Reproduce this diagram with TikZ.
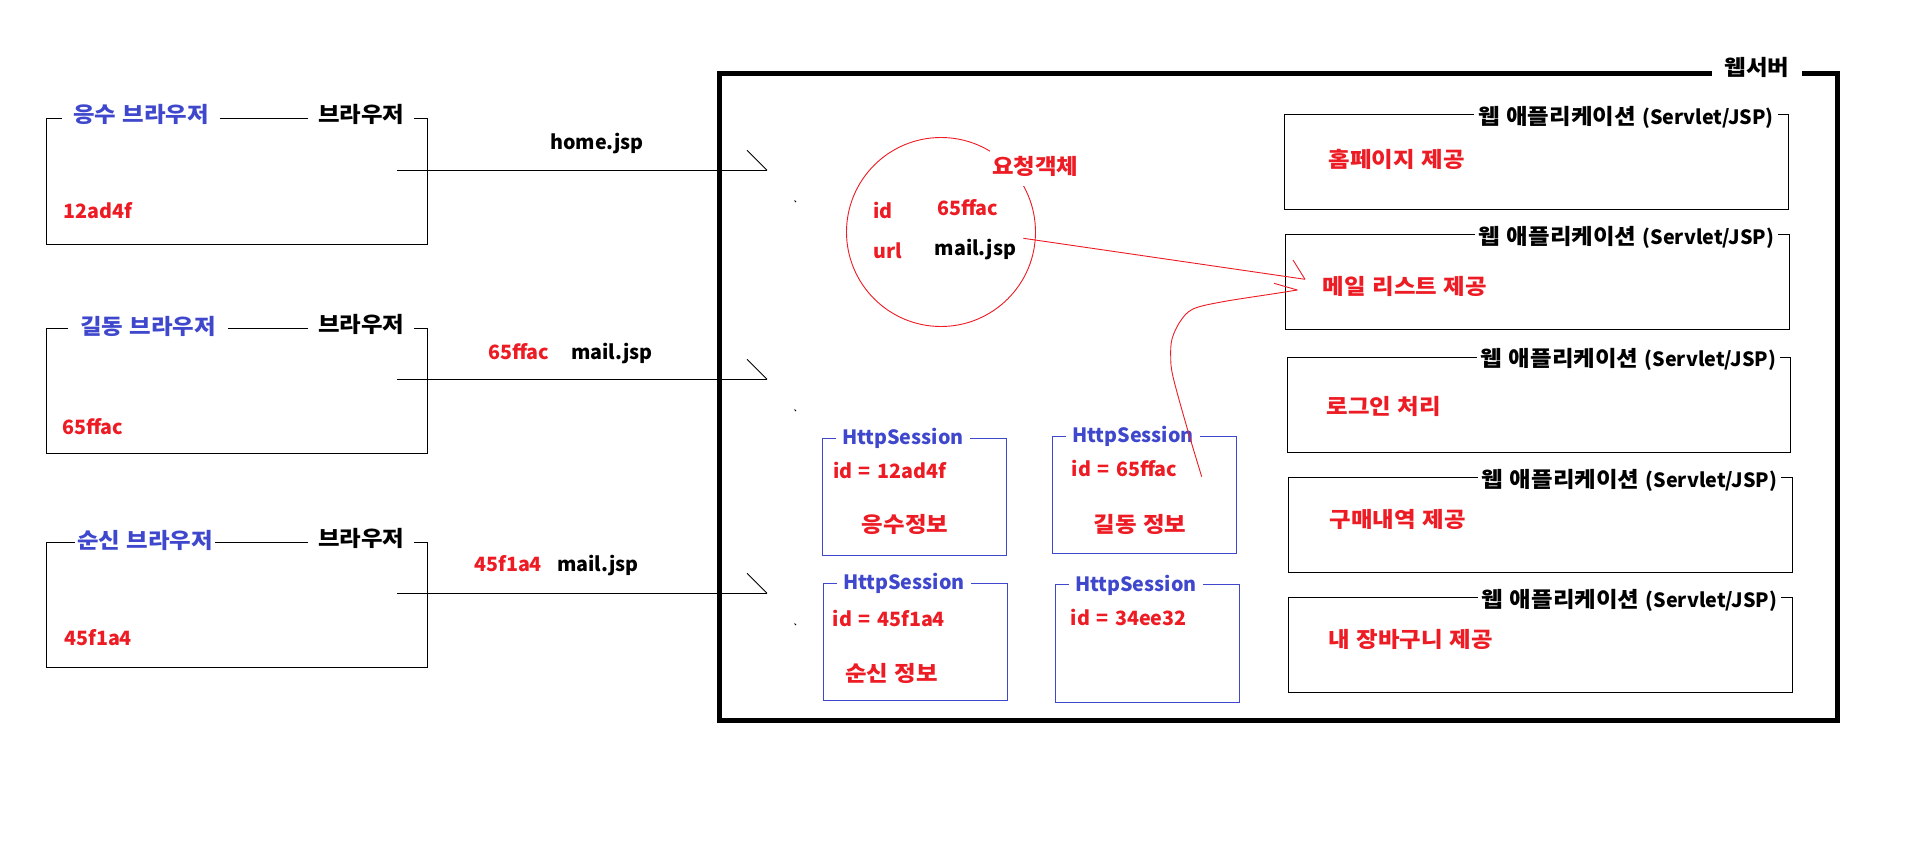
\documentclass[tikz,border=0pt]{standalone}
\usepackage{fontspec}
\setmainfont{Noto Sans CJK KR}
\newfontfamily\kofont{Noto Sans CJK KR}[FakeStretch=1.09]
\newcommand{\K}[1]{{\kofont\bfseries\fontsize{21.5}{24}\selectfont #1}}
\newcommand{\lblfont}{\bfseries\fontsize{19.7}{24}\selectfont\spaceskip=6.5pt\relax}
\definecolor{myred}{RGB}{237,28,36}
\definecolor{myblue}{RGB}{63,72,204}
\begin{document}
\begin{tikzpicture}[x=1pt,y=-1pt,
  lbl/.style={inner sep=0pt,font=\lblfont,text height=15pt,text depth=3pt},
  sbox/.style={draw,line width=1pt,inner sep=0pt,anchor=north west},
  bluebox/.style={draw=myblue,line width=1pt,inner sep=0pt,anchor=north west},
  thin/.style={line width=1pt},
  redthin/.style={draw=myred,line width=0.9pt},
  cut/.style={fill=white},
  ]
\useasboundingbox[fill=white] (0,0) rectangle (1912,867);

% web server
\node[draw,line width=5pt,inner sep=0pt,anchor=north west,minimum width=1117.7pt,minimum height=647.6pt] (srv) at (717,70.7) {};
\node[lbl,cut,inner xsep=13pt] (srvt) at (1757,70) {\K{웹서버}};

% browsers
\node[sbox,minimum width=381pt,minimum height=126pt] (b1) at (46,118) {};
\node[sbox,minimum width=381pt,minimum height=125.3pt] (b2) at (46,327.7) {};
\node[sbox,minimum width=381pt,minimum height=125.3pt] (b3) at (46,541.7) {};
\node[lbl,cut,inner xsep=11pt,anchor=west,text=myblue] (b1t) at (62,116) {\K{응수 브라우저}};
\node[lbl,cut,inner xsep=10pt,anchor=west] (b1k) at (308,116) {\K{브라우저}};
\node[lbl,cut,inner xsep=12pt,anchor=west,text=myblue] (b2t) at (68,328) {\K{길동 브라우저}};
\node[lbl,cut,inner xsep=10pt,anchor=west] (b2k) at (308,326) {\K{브라우저}};
\node[lbl,cut,inner xsep=2pt,anchor=west,text=myblue] (b3t) at (75,542) {\K{순신 브라우저}};
\node[lbl,cut,inner xsep=10pt,anchor=west] (b3k) at (308,540) {\K{브라우저}};
\node[lbl,anchor=west,text=myred] (b1id) at (63,212) {12ad4f};
\node[lbl,anchor=west,text=myred] (b2id) at (62,428) {65ffac};
\node[lbl,anchor=west,text=myred] (b3id) at (64,639) {45f1a4};

% request lines
\coordinate (l1s) at (397,170.3); \coordinate (l1e) at (767,170.3); \coordinate (l1b) at (747,150.3);
\coordinate (l2s) at (397,379.3); \coordinate (l2e) at (767,379.3); \coordinate (l2b) at (747,359.3);
\coordinate (l3s) at (397,593.3); \coordinate (l3e) at (767,593.3); \coordinate (l3b) at (747,573.3);
\draw[thin] (l1s) -- (l1e); \draw[line width=0.8pt] (l1b) -- (l1e);
\draw[thin] (l2s) -- (l2e); \draw[line width=0.8pt] (l2b) -- (l2e);
\draw[thin] (l3s) -- (l3e); \draw[line width=0.8pt] (l3b) -- (l3e);
\coordinate (d1) at (794.5,200.5); \coordinate (d2) at (794.5,409.5); \coordinate (d3) at (794.5,623.5);
\draw[line width=0.8pt] (d1) -- ++(1.5,1.5);
\draw[line width=0.8pt] (d2) -- ++(1.5,1.5);
\draw[line width=0.8pt] (d3) -- ++(1.5,1.5);
\node[lbl] (u1) at (597,143) {home.jsp};
\node[lbl,anchor=west,text=myred] (u2a) at (488,353) {65ffac};
\node[lbl,anchor=west] (u2b) at (571,353) {mail.jsp};
\node[lbl,anchor=west,text=myred] (u3a) at (474,565) {45f1a4};
\node[lbl,anchor=west] (u3b) at (557,565) {mail.jsp};

% request object
\node[redthin,circle,minimum size=189pt,inner sep=0pt] (req) at (941,232) {};
\node[lbl,cut,inner xsep=2pt,minimum height=36pt,anchor=west,text=myred] (reqt) at (990,168) {\K{요청객체}};
\node[lbl,anchor=west,text=myred] (rid) at (873,212) {id};
\node[lbl,anchor=west,text=myred] (ridv) at (937,209) {65ffac};
\node[lbl,anchor=west,text=myred] (rurl) at (873,252) {url};
\node[lbl,anchor=west] (rurlv) at (934.5,249) {mail.jsp};

% sessions
\node[bluebox,minimum width=183.4pt,minimum height=117.6pt] (s1) at (822.3,437.7) {};
\node[bluebox,minimum width=183.4pt,minimum height=117.6pt] (s2) at (1052.3,435.7) {};
\node[bluebox,minimum width=183.4pt,minimum height=117.6pt] (s3) at (823.3,582.7) {};
\node[bluebox,minimum width=183.4pt,minimum height=118pt] (s4) at (1055.3,584.3) {};
\node[lbl,cut,inner xsep=6pt,text=myblue] (s1t) at (902.8,438.3) {HttpSession};
\node[lbl,cut,inner xsep=6pt,text=myblue] (s2t) at (1133,436) {HttpSession};
\node[lbl,cut,inner xsep=6pt,text=myblue] (s3t) at (903.8,583.3) {HttpSession};
\node[lbl,cut,inner xsep=6pt,text=myblue] (s4t) at (1135.8,585) {HttpSession};
\node[lbl,anchor=west,text=myred] (s1id) at (833,472.3) {id = 12ad4f};
\node[lbl,anchor=west,text=myred] (s1i) at (861.7,526.7) {\K{응수정보}};
\node[lbl,anchor=west,text=myred] (s2id) at (1071.7,470) {id = 65ffac};
\node[lbl,anchor=west,text=myred] (s2i) at (1093.3,526) {\K{길동 정보}};
\node[lbl,anchor=west,text=myred] (s3id) at (832.7,620.7) {id = 45f1a4};
\node[lbl,anchor=west,text=myred] (s3i) at (845,675.3) {\K{순신 정보}};
\node[lbl,anchor=west,text=myred] (s4id) at (1070.7,619) {id = 34ee32};

% web applications
\node[sbox,minimum width=503.3pt,minimum height=95pt] (a1) at (1284.4,114.3) {};
\node[sbox,minimum width=503.3pt,minimum height=95pt] (a2) at (1285.2,234.3) {};
\node[sbox,minimum width=503.4pt,minimum height=95pt] (a3) at (1287,357.3) {};
\node[sbox,minimum width=503.5pt,minimum height=95pt] (a4) at (1288,477.3) {};
\node[sbox,minimum width=503.5pt,minimum height=95pt] (a5) at (1288,597.3) {};
\node[lbl,cut,inner xsep=4pt] (a1t) at (1626,118) {\K{웹 애플리케이션} (Servlet/JSP)};
\node[lbl,cut,inner xsep=4pt] (a2t) at (1626.5,238) {\K{웹 애플리케이션} (Servlet/JSP)};
\node[lbl,cut,inner xsep=4pt] (a3t) at (1628.5,360.7) {\K{웹 애플리케이션} (Servlet/JSP)};
\node[lbl,cut,inner xsep=4pt] (a4t) at (1629.5,481.5) {\K{웹 애플리케이션} (Servlet/JSP)};
\node[lbl,cut,inner xsep=4pt] (a5t) at (1629.5,601.5) {\K{웹 애플리케이션} (Servlet/JSP)};
\node[lbl,anchor=west,text=myred] (a1c) at (1328.5,161) {\K{홈페이지 제공}};
\node[lbl,anchor=west,text=myred] (a2c) at (1322.7,288) {\K{메일 리스트 제공}};
\node[lbl,anchor=west,text=myred] (a3c) at (1326.5,408.3) {\K{로그인 처리}};
\node[lbl,anchor=west,text=myred] (a4c) at (1329.6,521) {\K{구매내역 제공}};
\node[lbl,anchor=west,text=myred] (a5c) at (1328.5,641) {\K{내 장바구니 제공}};

% red arrows
\coordinate (r1s) at (1023.4,238.3); \coordinate (r1e) at (1305,279.3); \coordinate (r1b) at (1293,260);
\draw[redthin] (r1s) -- (r1e);
\draw[redthin] (r1b) -- (r1e);
\coordinate (r2s) at (1201.7,476.7); \coordinate (r2e) at (1297.3,290); \coordinate (r2b) at (1274,283.3);
\draw[redthin] plot[smooth,tension=0.55] coordinates {(r2s) (1186.7,426.7) (1173,376.7) (1170.7,356.7) (1172,339) (1180,321.7) (1193,309) (1223,301.7) (1276.7,293.3) (r2e)};
\draw[redthin] (r2b) -- (r2e);
\end{tikzpicture}
\end{document}
